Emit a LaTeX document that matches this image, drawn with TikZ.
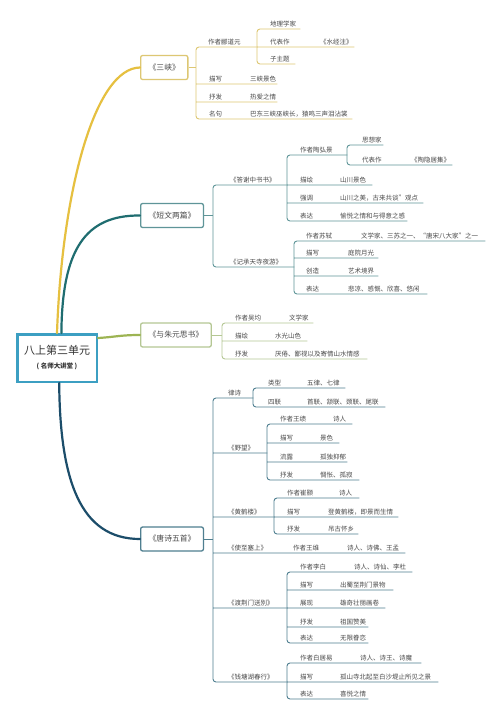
\documentclass[tikz,border=0pt]{standalone}
\usepackage{fontspec}
\setmainfont{Noto Sans CJK SC}
\usepackage{xcolor}
\definecolor{txtgray}{HTML}{4A4A4A}
\definecolor{mainblue}{HTML}{3C9FC2}
\definecolor{sxgold}{HTML}{E6C040}
\definecolor{sxline}{HTML}{DDC773}
\definecolor{dwteal}{HTML}{1F6D70}
\definecolor{dwline}{HTML}{5F9598}
\definecolor{yzolive}{HTML}{9DB453}
\definecolor{yzline}{HTML}{B5C794}
\definecolor{tsnavy}{HTML}{1C4D6A}
\definecolor{tsline}{HTML}{4F7F90}

\begin{document}
\begin{tikzpicture}[x=1pt, y=-1pt,
    topic/.style={draw=#1, line width=1.3pt, rounded corners=2pt, fill=white,
                  minimum height=24pt, inner xsep=8pt, anchor=west,
                  font=\fontsize{7.8}{9}\selectfont, text=txtgray},
    row/.style={minimum width=#1, minimum height=0pt, inner sep=0pt, anchor=south west},
    lt/.style={font=\fontsize{6.5}{7}\selectfont, text=txtgray, inner sep=0pt,
               anchor=south west, yshift=2pt},
    tx/.style 2 args={label={[lt, xshift=#1]south west:#2}},
    brk/.style={draw=#1, line width=0.9pt, rounded corners=3pt},
    trunk/.style={draw=#1, line width=2.2pt, line cap=round}
  ]
    \fill[white] (0,0) rectangle (500,716);
    \useasboundingbox (0,0) rectangle (500,716);

    % Central topic
    \node[draw=mainblue, line width=2.5pt, fill=white, minimum width=79.5pt,
          minimum height=47.5pt, align=center, text=black!80, inner sep=2pt] (main) at (57,358)
          {{\fontsize{11}{13}\selectfont 八上第三单元}\\[2pt]{\fontsize{6.5}{8}\selectfont\bfseries ( 名师大讲堂 )}};

    % 三峡
    \node[topic=sxline] (sx) at (140,67.5) {《三峡》};
    \node[row=61, tx={12pt}{作者郦道元}] (sx1) at (196,47) {};
    \node[row=81, tx={13pt}{描写}, tx={54pt}{三峡景色}] (sx2) at (196,84) {};
    \node[row=81, tx={13pt}{抒发}, tx={54pt}{热爱之情}] (sx3) at (196,102) {};
    \node[row=156, tx={13pt}{名句}, tx={54pt}{巴东三峡巫峡长，猿鸣三声泪沾裳}] (sx4) at (196,119) {};
    \node[row=43, tx={13pt}{地理学家}] (sx11) at (257,29) {};
    \node[row=97, tx={13pt}{代表作}, tx={63pt}{《水经注》}] (sx12) at (257,47) {};
    \node[row=38, tx={13pt}{子主题}] (sx13) at (257,64) {};

    % 短文两篇
    \node[topic=dwline] (dw) at (140,215.5) {《短文两篇》};
    \node[row=74, tx={17pt}{《答谢中书书》}] (dw1) at (213,185) {};
    \node[row=81, tx={17pt}{《记承天寺夜游》}] (dw2) at (213,267) {};
    \node[row=60, tx={13pt}{作者陶弘景}] (dw11) at (287,155) {};
    \node[row=85, tx={13pt}{描绘}, tx={53pt}{山川景色}] (dw12) at (287,185) {};
    \node[row=136, tx={13pt}{强调}, tx={53pt}{山川之美，古来共谈”观点}] (dw13) at (287,203) {};
    \node[row=120, tx={13pt}{表达}, tx={53pt}{愉悦之情和与得意之感}] (dw14) at (287,221) {};
    \node[row=36, tx={15pt}{思想家}] (dw111) at (347,145) {};
    \node[row=105, tx={15pt}{代表作}, tx={64pt}{《陶隐居集》}] (dw112) at (347,165) {};
    \node[row=191, tx={12pt}{作者苏轼}, tx={67pt}{文学家、三苏之一、“唐宋八大家”之一}] (dw21) at (294,241) {};
    \node[row=84, tx={12pt}{描写}, tx={54pt}{庭院月光}] (dw22) at (294,258) {};
    \node[row=84, tx={12pt}{创造}, tx={54pt}{艺术境界}] (dw23) at (294,276) {};
    \node[row=133, tx={12pt}{表达}, tx={54pt}{悲凉、感慨、欣喜、悠闲}] (dw24) at (294,294) {};

    % 与朱元思书
    \node[topic=yzline] (yz) at (140,335) {《与朱元思书》};
    \node[row=91, tx={13pt}{作者吴均}, tx={67pt}{文学家}] (yz1) at (222,323) {};
    \node[row=85, tx={13pt}{描绘}, tx={53pt}{水光山色}] (yz2) at (222,341) {};
    \node[row=145, tx={13pt}{抒发}, tx={53pt}{厌倦、鄙视以及寄情山水情感}] (yz3) at (222,359) {};

    % 唐诗五首
    \node[topic=tsline] (ts) at (140,539) {《唐诗五首》};
    \node[row=40, tx={15pt}{律诗}] (ts1) at (213,398) {};
    \node[row=54, tx={15pt}{《野望》}] (ts2) at (213,453) {};
    \node[row=61, tx={15pt}{《黄鹤楼》}] (ts3) at (213,517) {};
    \node[row=68, tx={15pt}{《使至塞上》}] (ts4) at (213,553) {};
    \node[row=124, tx={12pt}{作者王维}, tx={66pt}{诗人、诗佛、王孟}] (ts41) at (281,553) {};
    \node[row=74, tx={15pt}{《渡荆门送别》}] (ts5) at (213,608) {};
    \node[row=74, tx={15pt}{《钱塘湖春行》}] (ts6) at (213,682) {};
    \node[row=92, tx={15pt}{类型}, tx={54pt}{五律、七律}] (ts11) at (253,388) {};
    \node[row=132, tx={15pt}{四联}, tx={54pt}{首联、颔联、颈联、尾联}] (ts12) at (253,407) {};
    \node[row=85, tx={13pt}{作者王绩}, tx={66pt}{诗人}] (ts21) at (267,424) {};
    \node[row=72, tx={13pt}{描写}, tx={53pt}{景色}] (ts22) at (267,443) {};
    \node[row=80, tx={13pt}{流露}, tx={53pt}{孤独抑郁}] (ts23) at (267,462) {};
    \node[row=92, tx={13pt}{抒发}, tx={53pt}{惆怅、孤寂}] (ts24) at (267,480) {};
    \node[row=85, tx={13pt}{作者崔颢}, tx={65pt}{诗人}] (ts31) at (274,498) {};
    \node[row=124, tx={13pt}{描写}, tx={54pt}{登黄鹤楼，即景而生情}] (ts32) at (274,517) {};
    \node[row=84, tx={13pt}{抒发}, tx={54pt}{吊古怀乡}] (ts33) at (274,534) {};
    \node[row=125, tx={13pt}{作者李白}, tx={67pt}{诗人、诗仙、李杜}] (ts51) at (287,572) {};
    \node[row=106, tx={13pt}{描写}, tx={53pt}{出蜀至荆门景物}] (ts52) at (287,590) {};
    \node[row=98, tx={13pt}{展现}, tx={53pt}{雄奇壮丽画卷}] (ts53) at (287,608) {};
    \node[row=81, tx={13pt}{抒发}, tx={53pt}{祖国赞美}] (ts54) at (287,627) {};
    \node[row=81, tx={13pt}{表达}, tx={53pt}{无限眷恋}] (ts55) at (287,643) {};
    \node[row=134, tx={13pt}{作者白居易}, tx={73pt}{诗人、诗王、诗魔}] (ts61) at (287,663) {};
    \node[row=151, tx={13pt}{描写}, tx={53pt}{孤山寺北起至白沙堤止所见之景}] (ts62) at (287,682) {};
    \node[row=81, tx={13pt}{表达}, tx={53pt}{喜悦之情}] (ts63) at (287,699) {};

    % Main branches
    \draw[trunk=sxgold] (main.north) .. controls (62,190) and (95,68) .. (sx.west);
    \draw[trunk=dwteal] (main.80) .. controls (62,250) and (85,215) .. (dw.west);
    \draw[trunk=yzolive] (main.26) .. controls (115,337) and (120,335) .. (yz.west);
    \draw[trunk=tsnavy] (main.-85) .. controls (60,480) and (80,539) .. (ts.west);

    % Brackets and underlines
    \draw[brk=sxline] (sx.east) -- (sx.east -| sx1.south west);
    \draw[brk=sxline] (sx1.south east) -- (sx1.south west) -- (sx4.south west) -- (sx4.south east)
      (sx2.south west) -- (sx2.south east) (sx3.south west) -- (sx3.south east);
    \draw[brk=sxline] (sx11.south east) -- (sx11.south west) -- (sx13.south west) -- (sx13.south east)
      (sx12.south west) -- (sx12.south east);

    \draw[brk=dwline] (dw.east) -- (dw.east -| dw1.south west);
    \draw[brk=dwline] (dw1.south east) -- (dw1.south west) -- (dw2.south west) -- (dw2.south east);
    \draw[brk=dwline] (dw11.south east) -- (dw11.south west) -- (dw14.south west) -- (dw14.south east)
      (dw12.south west) -- (dw12.south east) (dw13.south west) -- (dw13.south east);
    \draw[brk=dwline] (dw111.south east) -- (dw111.south west) -- (dw112.south west) -- (dw112.south east);
    \draw[brk=dwline] (dw21.south east) -- (dw21.south west) -- (dw24.south west) -- (dw24.south east)
      (dw22.south west) -- (dw22.south east) (dw23.south west) -- (dw23.south east);

    \draw[brk=yzline] (yz.east) -- (yz.east -| yz1.south west);
    \draw[brk=yzline] (yz1.south east) -- (yz1.south west) -- (yz3.south west) -- (yz3.south east)
      (yz2.south west) -- (yz2.south east);

    \draw[brk=tsline] (ts.east) -- (ts.east -| ts1.south west);
    \draw[brk=tsline] (ts1.south east) -- (ts1.south west) -- (ts6.south west) -- (ts6.south east)
      (ts2.south west) -- (ts2.south east) (ts3.south west) -- (ts3.south east)
      (ts4.south west) -- (ts41.south east) (ts5.south west) -- (ts5.south east);
    \draw[brk=tsline] (ts11.south east) -- (ts11.south west) -- (ts12.south west) -- (ts12.south east);
    \draw[brk=tsline] (ts21.south east) -- (ts21.south west) -- (ts24.south west) -- (ts24.south east)
      (ts22.south west) -- (ts22.south east) (ts23.south west) -- (ts23.south east);
    \draw[brk=tsline] (ts31.south east) -- (ts31.south west) -- (ts33.south west) -- (ts33.south east)
      (ts32.south west) -- (ts32.south east);
    \draw[brk=tsline] (ts51.south east) -- (ts51.south west) -- (ts55.south west) -- (ts55.south east)
      (ts52.south west) -- (ts52.south east) (ts53.south west) -- (ts53.south east)
      (ts54.south west) -- (ts54.south east);
    \draw[brk=tsline] (ts61.south east) -- (ts61.south west) -- (ts63.south west) -- (ts63.south east)
      (ts62.south west) -- (ts62.south east);
  \end{tikzpicture}
\end{document}
